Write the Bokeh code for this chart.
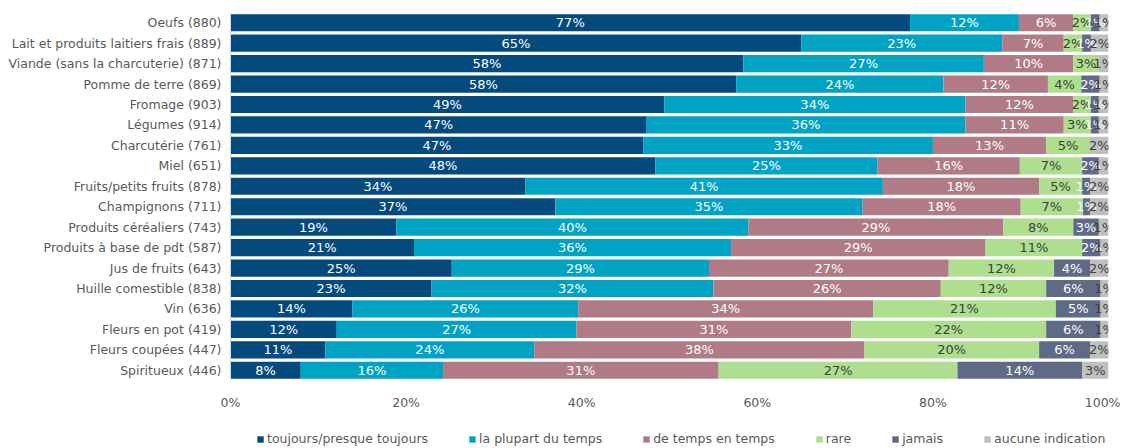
from bokeh.plotting import figure
from bokeh.layouts import column
from bokeh.models import (ColumnDataSource, FactorRange, FixedTicker,
                          PrintfTickFormatter, Legend, LegendItem)
from bokeh.embed import file_html
from bokeh.resources import INLINE
from bokeh.core.properties import value

categories = [
    "Oeufs (880)", "Lait et produits laitiers frais (889)",
    "Viande (sans la charcuterie) (871)", "Pomme de terre (869)",
    "Fromage (903)", "Légumes (914)", "Charcutérie (761)", "Miel (651)",
    "Fruits/petits fruits (878)", "Champignons (711)",
    "Produits céréaliers (743)", "Produits à base de pdt (587)",
    "Jus de fruits (643)", "Huille comestible (838)", "Vin (636)",
    "Fleurs en pot (419)", "Fleurs coupées (447)", "Spiritueux (446)",
]
toujours = [77.4, 65.0, 58.4, 57.6, 49.4, 47.4, 47.0, 48.4, 33.6, 37.0,
            18.9, 20.9, 25.2, 22.9, 13.9, 12.1, 10.8, 8.0]
plupart = [12.4, 22.9, 27.4, 23.6, 34.3, 36.3, 33.0, 25.3, 40.7, 35.0,
           40.1, 36.1, 29.3, 32.1, 25.7, 27.3, 23.8, 16.2]
de_temps = [6.2, 7.0, 10.2, 11.9, 12.3, 11.2, 12.9, 16.2, 17.8, 18.0,
            29.0, 29.0, 27.3, 25.9, 33.6, 31.3, 37.6, 31.4]
rare = [2.0, 2.1, 2.9, 3.8, 2.0, 3.1, 5.0, 7.1, 4.9, 7.1,
        8.0, 11.0, 12.0, 12.0, 20.8, 22.2, 19.9, 27.2]
jamais = [1.0, 1.0, 0.0, 2.1, 0.9, 0.9, 0.0, 1.9, 0.9, 0.8,
          2.9, 2.1, 4.1, 6.2, 5.1, 6.2, 5.8, 14.2]
aucune = [1.0, 2.0, 1.1, 1.0, 1.1, 1.1, 2.1, 1.1, 2.1, 2.1,
          1.1, 0.9, 2.1, 0.9, 0.9, 0.9, 2.1, 3.0]
series_names = ["toujours/presque toujours", "la plupart du temps",
                "de temps en temps", "rare", "jamais", "aucune indication"]
x_ticks = [0, 20, 40, 60, 80, 100]

colors = ["#044A7C", "#00A3C4", "#B07B86", "#AEDF8F", "#5F6A86", "#BFBFBF"]
label_colors = ["white", "white", "white", "#404040", "white", "#404040"]
FONT = "DejaVu Sans"
GREY = "#595959"
W = 1120

series = [toujours, plupart, de_temps, rare, jamais, aucune]
keys = ["s%d" % i for i in range(len(series))]
data = {"cat": categories}
for k, s in zip(keys, series):
    data[k] = s
source = ColumnDataSource(data)

p = figure(width=W, height=412,
           y_range=FactorRange(*reversed(categories)), x_range=(0, 100),
           output_backend="svg", toolbar_location=None,
           min_border_left=230, min_border_right=12,
           min_border_top=12, min_border_bottom=28)

p.hbar_stack(keys, y="cat", height=0.84, color=colors,
             line_color=None, source=source)

# segment labels
lx, ly, lt, lc = [], [], [], []
for j, cat in enumerate(categories):
    left = 0.0
    for i, s in enumerate(series):
        v = s[j]
        if v > 0:
            lx.append(left + v / 2.0)
            ly.append(cat)
            lt.append("%d%%" % round(v))
            lc.append(label_colors[i])
        left += v
lsrc = ColumnDataSource(dict(x=lx, y=ly, t=lt, c=lc))
p.text(x="x", y="y", text="t", text_color="c", source=lsrc,
       text_align="center", text_baseline="middle",
       text_font=value(FONT), text_font_size="13px")

p.xgrid.visible = False
p.ygrid.visible = False
p.outline_line_color = None

p.xaxis.ticker = FixedTicker(ticks=x_ticks)
p.xaxis.formatter = PrintfTickFormatter(format="%d%%")
p.xaxis.axis_line_color = None
p.xaxis.major_tick_line_color = None
p.xaxis.minor_tick_line_color = None
p.xaxis.major_tick_out = 0
p.xaxis.minor_tick_out = 0
p.xaxis.major_label_standoff = 14
p.xaxis.major_label_text_font = FONT
p.xaxis.major_label_text_font_size = "12.5px"
p.xaxis.major_label_text_color = GREY

p.yaxis.axis_line_color = "#D9D9D9"
p.yaxis.major_tick_line_color = None
p.yaxis.minor_tick_line_color = None
p.yaxis.major_tick_out = 0
p.yaxis.minor_tick_out = 0
p.yaxis.major_label_standoff = 9
p.yaxis.major_label_text_font = FONT
p.yaxis.major_label_text_font_size = "12.5px"
p.yaxis.major_label_text_color = GREY

# legend strip below the chart (zero-height bars only feed the legend)
lg = figure(width=W, height=34, x_range=(0, 100),
            y_range=FactorRange(*categories),
            output_backend="svg", toolbar_location=None,
            x_axis_type=None, y_axis_type=None,
            min_border_left=0, min_border_right=0,
            min_border_top=0, min_border_bottom=0)
lg.xgrid.visible = False
lg.ygrid.visible = False
lg.outline_line_color = None
lrs = lg.hbar_stack(keys, y="cat", height=0.0, color=colors,
                    line_color=None, source=source)
legend = Legend(items=[LegendItem(label=n, renderers=[r])
                       for n, r in zip(series_names, lrs)],
                location=(26, 0), orientation="horizontal",
                glyph_width=8, glyph_height=8, label_standoff=3,
                spacing=40, padding=0, margin=0, border_line_color=None,
                background_fill_alpha=0, label_height=14,
                label_text_font=FONT, label_text_font_size="12.5px",
                label_text_color=GREY)
lg.add_layout(legend)

layout = column(p, lg, spacing=0)
open("out.html", "w").write(file_html(layout, INLINE))
